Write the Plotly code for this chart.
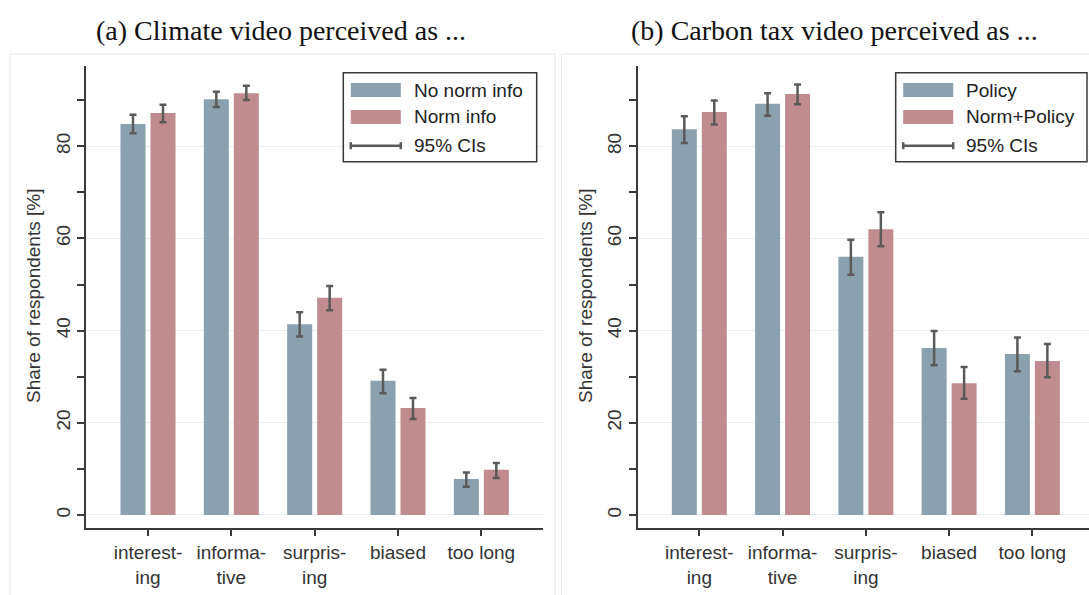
import plotly.graph_objects as go

# ---------------- data ----------------
categories = ["interest-<br>ing", "informa-<br>tive", "surpris-<br>ing", "biased", "too long"]

# Panel (a): Climate video
nonorm = [84.8, 90.2, 41.4, 29.1, 7.8]
nonorm_lo = [82.8, 88.5, 38.7, 26.4, 6.1]
nonorm_hi = [86.8, 91.8, 44.0, 31.5, 9.2]
norm = [87.2, 91.5, 47.1, 23.2, 9.8]
norm_lo = [85.2, 90.0, 44.4, 20.8, 8.0]
norm_hi = [89.0, 93.1, 49.7, 25.4, 11.3]

# Panel (b): Carbon tax video
policy = [83.7, 89.2, 56.0, 36.2, 34.9]
policy_lo = [80.7, 86.6, 52.1, 32.5, 31.2]
policy_hi = [86.5, 91.5, 59.7, 39.9, 38.5]
normpol = [87.4, 91.3, 62.0, 28.6, 33.4]
normpol_lo = [84.7, 89.1, 58.3, 25.2, 29.9]
normpol_hi = [89.9, 93.4, 65.7, 32.1, 37.1]

titles = ["(a) Climate video perceived as ...", "(b) Carbon tax video perceived as ..."]
legend_a = ["No norm info", "Norm info", "95% CIs"]
legend_b = ["Policy", "Norm+Policy", "95% CIs"]
ytitle = "Share of respondents [%]"

# ---------------- style ----------------
W, H = 1089, 595
C_BLUE = "#8aa2b0"
C_PINK = "#c18c8f"
C_ERR = "#5a5a5a"
C_AX = "#3a3a3a"
C_TXT = "#333333"
C_GRID = "#e8eff1"
C_BOX = "#e3e9eb"
FONT = "Liberation Sans, Arial, sans-serif"
pos = list(range(len(categories)))


def px(x):
    return x / W


def py(y):
    return 1 - y / H


def err(v, lo, hi):
    return dict(type="data", symmetric=False,
                array=[h - a for a, h in zip(v, hi)],
                arrayminus=[a - l for a, l in zip(v, lo)],
                color=C_ERR, thickness=2.5, width=3.5)


fig = go.Figure()
panels = [
    ("x", "y", nonorm, nonorm_lo, nonorm_hi, norm, norm_lo, norm_hi),
    ("x2", "y2", policy, policy_lo, policy_hi, normpol, normpol_lo, normpol_hi),
]
for xa, ya, v1, l1, h1, v2, l2, h2 in panels:
    fig.add_trace(go.Bar(x=pos, y=v1, xaxis=xa, yaxis=ya, width=0.3, offset=-0.33,
                         marker=dict(color=C_BLUE, line=dict(width=0)),
                         error_y=err(v1, l1, h1), showlegend=False))
    fig.add_trace(go.Bar(x=pos, y=v2, xaxis=xa, yaxis=ya, width=0.3, offset=0.03,
                         marker=dict(color=C_PINK, line=dict(width=0)),
                         error_y=err(v2, l2, h2), showlegend=False))

ydom = [py(527.7), py(66)]
yrange = [-2.76, 97.4]
xcommon = dict(showline=True, linecolor=C_AX, linewidth=1.5, ticks="outside", ticklen=7,
               tickwidth=1.5, tickcolor=C_AX, tickvals=pos, ticktext=categories,
               showgrid=False, zeroline=False,
               tickfont=dict(family=FONT, size=19, color=C_TXT))
ycommon = dict(range=yrange, domain=ydom, showline=True, linecolor=C_AX, linewidth=1.5,
               ticks="outside", ticklen=7, tickwidth=1.5, tickcolor=C_AX,
               tickvals=[0, 20, 40, 60, 80], tickangle=-90,
               showgrid=True, gridcolor=C_GRID, gridwidth=1.2, zeroline=False,
               minor=dict(tickvals=[10, 30, 50, 70, 90], ticks="outside", ticklen=7,
                          tickwidth=1.5, tickcolor=C_AX, showgrid=False),
               tickfont=dict(family=FONT, size=19, color=C_TXT))

fig.update_layout(
    width=W, height=H, margin=dict(l=0, r=0, t=0, b=0),
    paper_bgcolor="white", plot_bgcolor="white", barmode="overlay",
    xaxis=dict(domain=[px(86), px(543)], range=[-0.744, 4.74], anchor="y", **xcommon),
    yaxis=dict(anchor="x", **ycommon),
    xaxis2=dict(domain=[px(637.7), 1.0], range=[-0.74, 4.68], anchor="y2", **xcommon),
    yaxis2=dict(anchor="x2", **ycommon),
)

shapes = []
annotations = []

# panel boxes
shapes.append(dict(type="rect", xref="paper", yref="paper", x0=px(10), x1=px(555),
                   y0=py(600), y1=py(54), line=dict(color=C_BOX, width=1), layer="below"))
shapes.append(dict(type="rect", xref="paper", yref="paper", x0=px(561.5), x1=px(1095),
                   y0=py(600), y1=py(54), line=dict(color=C_BOX, width=1), layer="below"))

# titles
for t, cx in zip(titles, [281, 834]):
    annotations.append(dict(text=t, xref="paper", yref="paper", x=px(cx), y=py(30),
                            xanchor="center", yanchor="middle", showarrow=False,
                            font=dict(family="Liberation Serif, serif", size=28, color="#111111")))

# y-axis titles
for cx in [33, 585]:
    annotations.append(dict(text=ytitle, xref="paper", yref="paper", x=px(cx),
                            y=py(296), textangle=-90, xanchor="center", yanchor="middle",
                            showarrow=False, font=dict(family=FONT, size=19, color=C_TXT)))

# manual legends
for labels, bx0, bx1 in [(legend_a, 343.3, 536.7), (legend_b, 895.7, 1087)]:
    shapes.append(dict(type="rect", xref="paper", yref="paper", x0=px(bx0), x1=px(bx1),
                       y0=py(161.7), y1=py(72.7), line=dict(color=C_AX, width=1.5),
                       fillcolor="white"))
    sx0, sx1 = bx0 + 7.5, bx0 + 57.5
    rows = [90, 117, 145.7]
    for col, ry in zip([C_BLUE, C_PINK], rows[:2]):
        shapes.append(dict(type="rect", xref="paper", yref="paper", x0=px(sx0), x1=px(sx1),
                           y0=py(ry + 7), y1=py(ry - 7), line=dict(width=0), fillcolor=col))
    ry = rows[2]
    shapes.append(dict(type="line", xref="paper", yref="paper", x0=px(sx0), x1=px(sx1),
                       y0=py(ry), y1=py(ry), line=dict(color=C_ERR, width=2.5)))
    for ex in (sx0, sx1):
        shapes.append(dict(type="line", xref="paper", yref="paper", x0=px(ex), x1=px(ex),
                           y0=py(ry - 3.5), y1=py(ry + 3.5), line=dict(color=C_ERR, width=2.5)))
    for lab, ry in zip(labels, rows):
        annotations.append(dict(text=lab, xref="paper", yref="paper", x=px(sx1 + 11),
                                y=py(ry), xanchor="left", yanchor="middle", showarrow=False,
                                font=dict(family=FONT, size=19, color="#222222")))

fig.update_layout(shapes=shapes, annotations=annotations)
fig.write_html("out.html")
